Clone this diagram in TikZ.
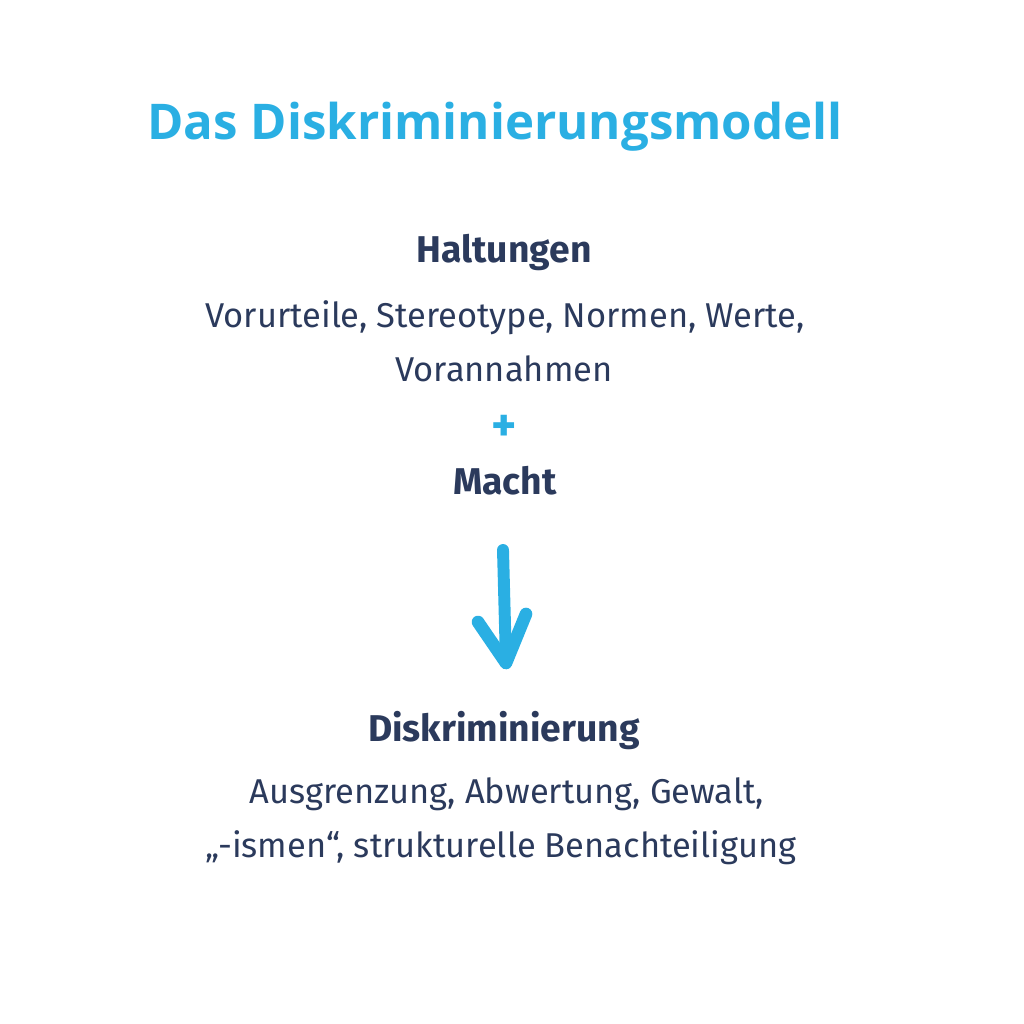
\documentclass[tikz,border=0pt]{standalone}
\usepackage{fontspec}
\setmainfont{Fira Sans}
\newfontfamily\titlefont{Open Sans}
\definecolor{skyblue}{HTML}{2AAFE3}
\definecolor{navy}{HTML}{2B3A5C}
\begin{document}
\begin{tikzpicture}[x=0.025cm, y=-0.025cm, font=\fontsize{24.5}{28}\selectfont, text=navy,
  heading/.style={anchor=base, font=\fontsize{26.5}{30}\selectfont\bfseries},
  body/.style={anchor=base},
  title/.style={anchor=base, text=skyblue, font=\titlefont\fontsize{35}{40}\selectfont\bfseries}]

\useasboundingbox (0,0) rectangle (1024,1024);

% Title
\node[title] (title) at (495,140) {Das Diskriminierungsmodell};

% Upper block
\node[heading] (haltungen) at (504,262) {Haltungen};
\node[body] (haltline1) at (505,327) {Vorurteile, Stereotype, Normen, Werte,};
\node[body] (haltline2) at (504,381) {Vorannahmen};

% Plus sign
\node[anchor=base, text=skyblue, font=\fontsize{34}{36}\selectfont\bfseries] (plus) at (504,441) {+};

\node[heading] (macht) at (505,494) {Macht};

% Hand drawn arrow
\coordinate (arrowtop) at (503,550);
\coordinate (arrowtip) at (506,663);
\draw[skyblue, line width=8.5pt, line cap=round, line join=round] (arrowtop) -- (arrowtip);
\draw[skyblue, line width=9pt, line cap=round, line join=round]
  (478,622) -- (arrowtip) -- (526,614);

% Lower block
\node[heading] (diskr) at (504,741) {Diskriminierung};
\node[body] (diskline1) at (507,803) {Ausgrenzung, Abwertung, Gewalt,};
\node[body] (diskline2) at (501,857) {„-ismen“, strukturelle Benachteiligung};

\end{tikzpicture}
\end{document}
